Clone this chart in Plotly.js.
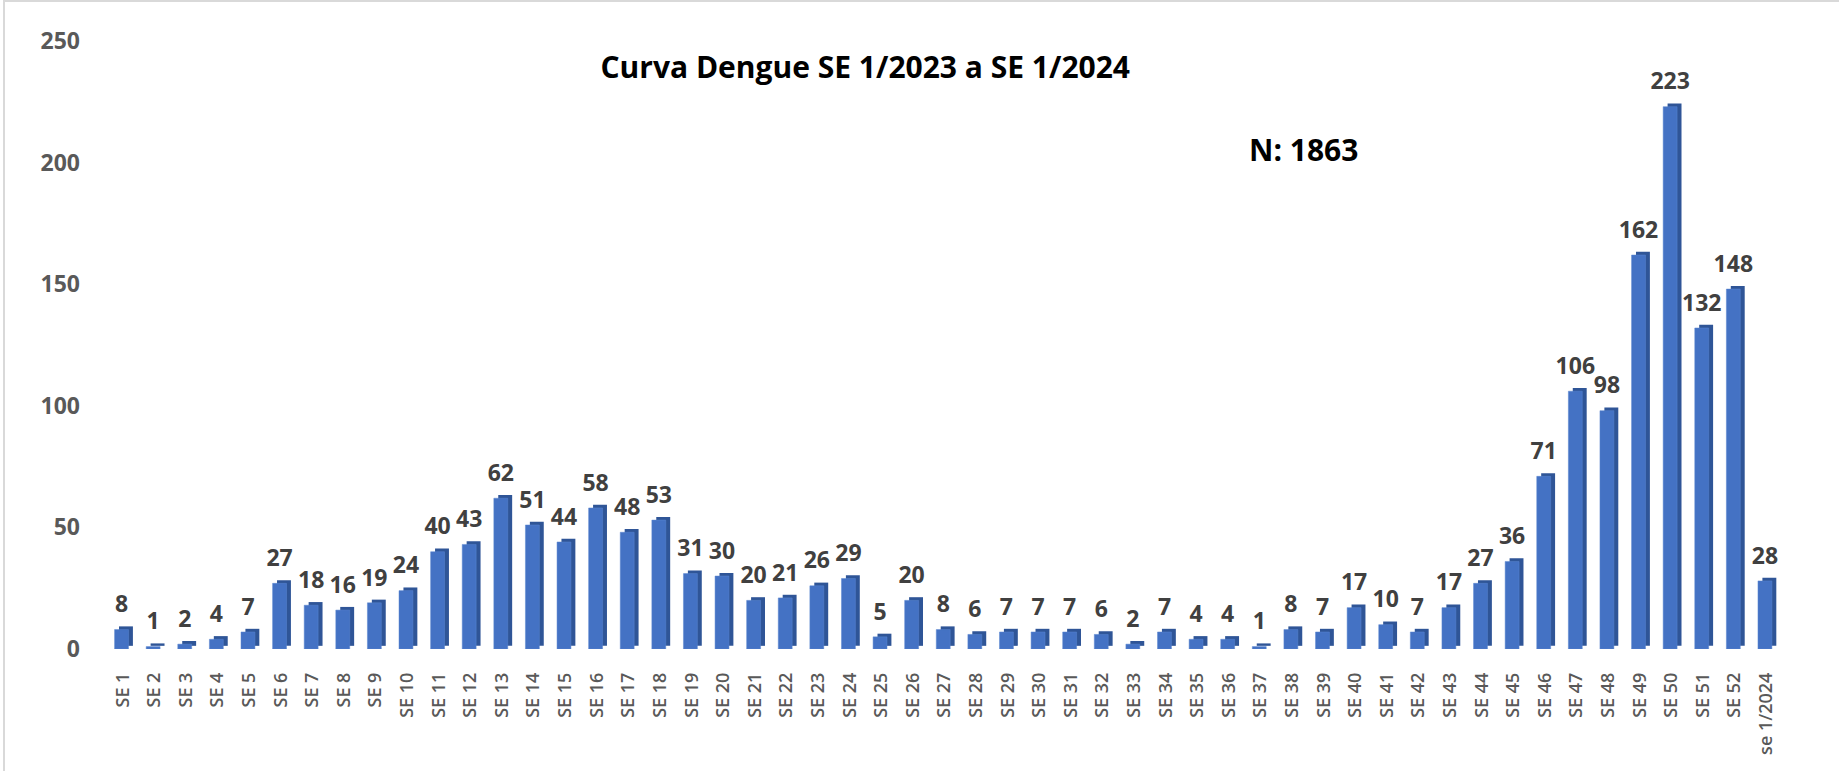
<!DOCTYPE html>
<html>
<head>
<meta charset="utf-8">
<script src="https://cdn.plot.ly/plotly-3.0.1.min.js"></script>
<style>
  html, body { margin: 0; padding: 0; background: #ffffff; }
  #wrap { position: relative; width: 1839px; height: 771px; }
  #chart { position: absolute; left: 0; top: 0; width: 1839px; height: 771px; }
  #bTop { position: absolute; left: 3px; top: 0; width: 1836px; height: 2px; background: #d9d9d9; }
  #bLeft { position: absolute; left: 3px; top: 0; width: 2px; height: 771px; background: #d9d9d9; }
</style>
</head>
<body>
<div id="wrap">
  <div id="chart"></div>
  <div id="bTop"></div>
  <div id="bLeft"></div>
</div>
<script>
const categories = ["SE 1","SE 2","SE 3","SE 4","SE 5","SE 6","SE 7","SE 8","SE 9","SE 10",
  "SE 11","SE 12","SE 13","SE 14","SE 15","SE 16","SE 17","SE 18","SE 19","SE 20",
  "SE 21","SE 22","SE 23","SE 24","SE 25","SE 26","SE 27","SE 28","SE 29","SE 30",
  "SE 31","SE 32","SE 33","SE 34","SE 35","SE 36","SE 37","SE 38","SE 39","SE 40",
  "SE 41","SE 42","SE 43","SE 44","SE 45","SE 46","SE 47","SE 48","SE 49","SE 50",
  "SE 51","SE 52","se 1/2024"];
const cases = [8,1,2,4,7,27,18,16,19,24,
  40,43,62,51,44,58,48,53,31,30,
  20,21,26,29,5,20,8,6,7,7,
  7,6,2,7,4,4,1,8,7,17,
  10,7,17,27,36,71,106,98,162,223,
  132,148,28];
const titleText = "Curva Dengue SE 1/2023 a SE 1/2024";
const totalText = "N: 1863";
const yTicks = [0, 50, 100, 150, 200, 250];

const depth = 1.3;   // lift of the shaded back face, in value units
const labelLift = 3; // gap between bar top and its value label, in value units

const sideTrace = {
  type: "bar",
  x: categories,
  y: cases,
  base: cases.map(() => depth),
  width: 0.44,
  offset: -0.12,
  marker: { color: "#2f5597", line: { width: 0 } },
  hoverinfo: "skip",
  showlegend: false
};

const frontTrace = {
  type: "bar",
  x: categories,
  y: cases,
  width: 0.44,
  offset: -0.26,
  marker: { color: "#4472c4", line: { color: "#5b86d0", width: 0.5 } },
  showlegend: false
};

const labelTrace = {
  type: "bar",
  x: categories,
  y: cases.map(() => labelLift),
  base: cases,
  width: 0.44,
  offset: -0.26,
  marker: { color: "rgba(0,0,0,0)", line: { width: 0 } },
  text: cases.map(String),
  textposition: "outside",
  constraintext: "none",
  cliponaxis: false,
  textfont: { family: "Open Sans, sans-serif", size: 23, color: "#404040", weight: 700 },
  hoverinfo: "skip",
  showlegend: false
};

const layout = {
  width: 1839,
  height: 771,
  margin: { l: 107, r: 57, t: 41, b: 122 },
  paper_bgcolor: "#ffffff",
  plot_bgcolor: "#ffffff",
  barmode: "overlay",
  title: {
    text: "<b>" + titleText + "</b>",
    font: { family: "Open Sans, sans-serif", size: 30, color: "#000000" },
    xref: "container", x: 0.4705, xanchor: "center",
    yref: "container", y: 0.912, yanchor: "middle"
  },
  xaxis: {
    type: "category",
    tickangle: -90,
    tickfont: { family: "Open Sans, sans-serif", size: 18, color: "#595959", weight: 600 },
    showgrid: false, zeroline: false, showline: false,
    ticks: "", ticklabelstandoff: 19,
    fixedrange: true
  },
  yaxis: {
    range: [0, 250],
    tickvals: yTicks,
    ticktext: yTicks.map(String),
    tickfont: { family: "Open Sans, sans-serif", size: 23, color: "#595959", weight: 700 },
    showgrid: false, zeroline: false, showline: false,
    ticks: "", ticklabelstandoff: 26,
    fixedrange: true
  },
  annotations: [{
    text: "<b>" + totalText + "</b>",
    xref: "paper", yref: "paper",
    x: 0.7146, y: 0.822, xanchor: "center", yanchor: "middle",
    showarrow: false,
    font: { family: "Open Sans, sans-serif", size: 30, color: "#000000" }
  }]
};

Plotly.newPlot("chart", [sideTrace, frontTrace, labelTrace], layout, { displayModeBar: false, staticPlot: true });
</script>
</body>
</html>
